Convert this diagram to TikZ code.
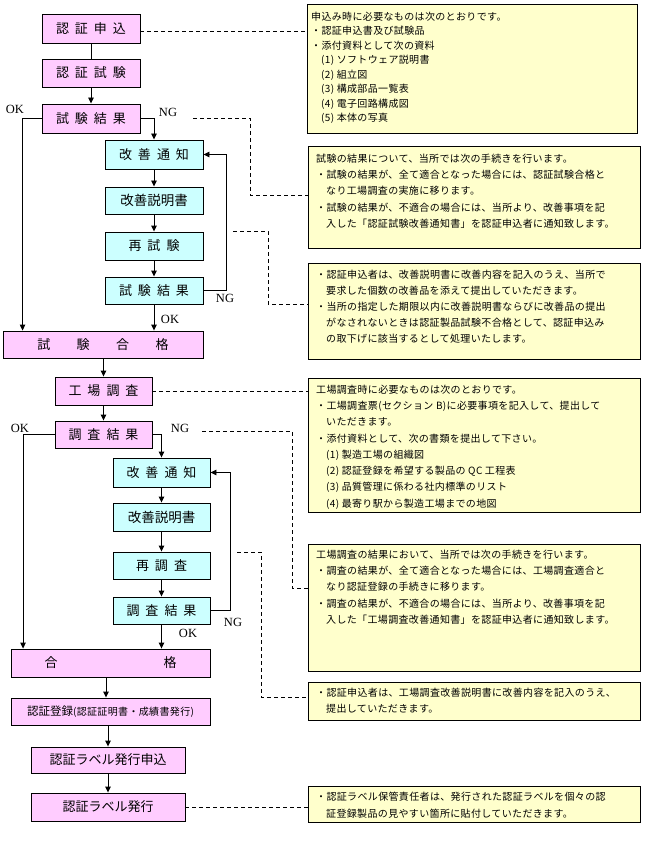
\documentclass[tikz,border=0pt]{standalone}
\usepackage{fontspec}
\newfontfamily\jp[LetterSpace=3.5]{Noto Sans CJK JP}
\newfontfamily\jpl{Noto Sans CJK JP}
\newfontfamily\tms{Liberation Serif}
\usetikzlibrary{arrows.meta}
\definecolor{pinkc}{HTML}{FFCCFF}
\definecolor{cyanc}{HTML}{CCFFFF}
\definecolor{notec}{HTML}{FFFFCC}
\newcommand\gp{\hspace{6pt}}
\newcommand\ind{\hspace*{1em}}
\begin{document}
\begin{tikzpicture}[x=1pt,y=-1pt,
 flowbox/.style={draw, line width=0.9pt, inner sep=0pt, font=\jpl\fontsize{13}{13}\selectfont},
 pbox/.style={flowbox, fill=pinkc},
 cbox/.style={flowbox, fill=cyanc},
 nbox/.style={draw, line width=0.9pt, fill=notec, inner sep=0pt},
 ntext/.style={anchor=north west, inner sep=0pt, align=left},
 lbl/.style={font=\tms\fontsize{12.5}{12.5}\selectfont, inner sep=0pt},
 arr/.style={line width=0.9pt, -{Triangle[length=6pt,width=5.5pt]}},
 ln/.style={line width=0.9pt},
 dsh/.style={line width=0.9pt, dash pattern=on 4pt off 3pt}]
\useasboundingbox (0,0) rectangle (650,850);

% ---- flow boxes ----
\node[pbox, minimum width=98pt, minimum height=29pt] (p1) at (91,28.5) {認\gp 証\gp 申\gp 込};
\node[pbox, minimum width=98pt, minimum height=28pt] (p2) at (91,73) {認\gp 証\gp 試\gp 験};
\node[pbox, minimum width=98pt, minimum height=29pt] (p3) at (91,118.5) {試\gp 験\gp 結\gp 果};
\node[cbox, minimum width=98pt, minimum height=29pt] (c1) at (154,154.5) {改\gp 善\gp 通\gp 知};
\node[cbox, minimum width=98pt, minimum height=27pt, font=\jpl\fontsize{13.5}{13.5}\selectfont] (c2) at (154,200.5) {改善説明書};
\node[cbox, minimum width=98pt, minimum height=28pt] (c3) at (154,246) {再\gp 試\gp 験};
\node[cbox, minimum width=98pt, minimum height=27pt] (c4) at (154,290.5) {試\gp 験\gp 結\gp 果};
\node[pbox, minimum width=200pt, minimum height=27pt] (p4) at (103,344.5) {試\hspace{26.5pt}験\hspace{26.5pt}合\hspace{26.5pt}格};
\node[pbox, minimum width=97pt, minimum height=28pt] (p5) at (103.5,391) {工\gp 場\gp 調\gp 査};
\node[pbox, minimum width=97pt, minimum height=27pt] (p6) at (103.5,434.5) {調\gp 査\gp 結\gp 果};
\node[cbox, minimum width=97pt, minimum height=29pt] (c5) at (161.5,472.5) {改\gp 善\gp 通\gp 知};
\node[cbox, minimum width=97pt, minimum height=28pt, font=\jpl\fontsize{13.5}{13.5}\selectfont] (c6) at (161.5,517) {改善説明書};
\node[cbox, minimum width=97pt, minimum height=27pt] (c7) at (161.5,565.5) {再\gp 調\gp 査};
\node[cbox, minimum width=97pt, minimum height=27pt] (c8) at (161.5,610.5) {調\gp 査\gp 結\gp 果};
\node[pbox, minimum width=199pt, minimum height=28pt] (p7) at (110.5,663) {合\hspace{106pt}格};
\node[pbox, minimum width=199pt, minimum height=27pt] (p8) at (110.5,711.5) {{\fontsize{11.5}{11.5}\selectfont 認証登録}{\jp\fontsize{10}{10}\selectfont (認証証明書・成績書発行)}};
\node[pbox, minimum width=154pt, minimum height=26pt] (p9) at (108,760) {認証ラベル発行申込};
\node[pbox, minimum width=154pt, minimum height=28pt] (p10) at (108,807) {認証ラベル発行};

% ---- note boxes ----
\node[nbox, minimum width=330pt, minimum height=129pt] (n1) at (472,68.5) {};
\node[nbox, minimum width=332pt, minimum height=102pt] (n2) at (474,197) {};
\node[nbox, minimum width=332pt, minimum height=96pt] (n3) at (474,311) {};
\node[nbox, minimum width=332pt, minimum height=134pt] (n4) at (474,445) {};
\node[nbox, minimum width=332pt, minimum height=127pt] (n5) at (474,607.5) {};
\node[nbox, minimum width=332pt, minimum height=38pt] (n6) at (474,701) {};
\node[nbox, minimum width=332pt, minimum height=36pt] (n7) at (474,804) {};

\node[ntext, font=\jp\fontsize{10}{14.5}\selectfont] (t1) at (311,11.5) {申込み時に必要なものは次のとおりです。\\
・認証申込書及び試験品\\
・添付資料として次の資料\\
\ind (1) ソフトウェア説明書\\
\ind (2) 組立図\\
\ind (3) 構成部品一覧表\\
\ind (4) 電子回路構成図\\
\ind (5) 本体の写真};

\node[ntext, font=\jp\fontsize{10}{16.3}\selectfont] (t2) at (316,153.5) {試験の結果について、当所では次の手続きを行います。\\
・試験の結果が、全て適合となった場合には、認証試験合格と\\
\ind なり工場調査の実施に移ります。\\
・試験の結果が、不適合の場合には、当所より、改善事項を記\\
\ind 入した「認証試験改善通知書」を認証申込者に通知致します。};

\node[ntext, font=\jp\fontsize{10}{16}\selectfont] (t3) at (316,269.5) {・認証申込者は、改善説明書に改善内容を記入のうえ、当所で\\
\ind 要求した個数の改善品を添えて提出していただきます。\\
・当所の指定した期限以内に改善説明書ならびに改善品の提出\\
\ind がなされないときは認証製品試験不合格として、認証申込み\\
\ind の取下げに該当するとして処理いたします。};

\node[ntext, font=\jp\fontsize{10}{16.3}\selectfont] (t4) at (316,384.5) {工場調査時に必要なものは次のとおりです。\\
・工場調査票(セクション B)に必要事項を記入して、提出して\\
\ind いただきます。\\
・添付資料として、次の書類を提出して下さい。\\
\ind (1) 製造工場の組織図\\
\ind (2) 認証登録を希望する製品の QC 工程表\\
\ind (3) 品質管理に係わる社内標準のリスト\\
\ind (4) 最寄り駅から製造工場までの地図};

\node[ntext, font=\jp\fontsize{10}{16.3}\selectfont] (t5) at (316,549.5) {工場調査の結果において、当所では次の手続きを行います。\\
・調査の結果が、全て適合となった場合には、工場調査適合と\\
\ind なり認証登録の手続きに移ります。\\
・調査の結果が、不適合の場合には、当所より、改善事項を記\\
\ind 入した「工場調査改善通知書」を認証申込者に通知致します。};

\node[ntext, font=\jp\fontsize{10}{16.5}\selectfont] (t6) at (316,687.5) {・認証申込者は、工場調査改善説明書に改善内容を記入のうえ、\\
\ind 提出していただきます。};

\node[ntext, font=\jp\fontsize{10}{16.5}\selectfont] (t7) at (316,792) {・認証ラベル保管責任者は、発行された認証ラベルを個々の認\\
\ind 証登録製品の見やすい箇所に貼付していただきます。};

% ---- labels ----
\node[lbl] (ok1) at (15,109) {OK};
\node[lbl] (ng1) at (168,112) {NG};
\node[lbl] (ng2) at (225,298) {NG};
\node[lbl] (ok2) at (170,319) {OK};
\node[lbl] (ok3) at (20,428) {OK};
\node[lbl] (ng3) at (180,428) {NG};
\node[lbl] (ng4) at (233,622) {NG};
\node[lbl] (ok4) at (188,633) {OK};

% ---- connectors ----
\draw[ln] (p1.south) -- (p2.north);
\draw[arr] (p2.south) -- (p3.north);
\draw[arr] (p3.west) -| ([xshift=20pt]p4.north west);
\draw[arr] (p3.east) -| (c1.north);
\draw[arr] (c1.south) -- (c2.north);
\draw[arr] (c2.south) -- (c3.north);
\draw[arr] (c3.south) -- (c4.north);
\draw[arr] (c4.south) -- (c4.south |- p4.north);
\draw[arr] (c4.east) -- ++(23,0) |- (c1.east);
\draw[arr] (p5.north |- p4.south) -- (p5.north);
\draw[arr] (p5.south) -- (p6.north);
\draw[arr] (p6.west) -| ([xshift=12.5pt]p7.north west);
\draw[arr] (p6.east) -| (c5.north);
\draw[arr] (c5.south) -- (c6.north);
\draw[arr] (c6.south) -- (c7.north);
\draw[arr] (c7.south) -- (c8.north);
\draw[arr] (c8.south) -- (c8.south |- p7.north);
\draw[arr] (c8.east) -- ++(20,0) |- (c5.east);
\draw[arr] ([xshift=-4.5pt]p7.south) -- ([xshift=-4.5pt]p8.north);
\draw[arr] (p9.north |- p8.south) -- (p9.north);
\draw[arr] (p9.south) -- (p10.north);

% ---- dashed leaders ----
\coordinate (d0) at ([yshift=-2.5pt]p1.east);
\coordinate (d1) at (193,118);
\coordinate (d2) at (233,231);
\coordinate (d3) at (202,431);
\coordinate (d4) at (237,552);
\draw[dsh] (d0) -- (n1.west |- d0);
\draw[dsh] (d1) -- ++(57,0) |- ([yshift=2pt]n2.west);
\draw[dsh] (d2) -- ++(35,0) |- ([yshift=7pt]n3.west);
\draw[dsh] (p5.east) -- (n4.west |- p5.east);
\draw[dsh] (d3) -- ++(90,0) |- ([yshift=19.5pt]n5.west);
\draw[dsh] (d4) -- ++(24,0) |- ([yshift=4pt]n6.west);
\draw[dsh] (p10.east) -- (n7.west |- p10.east);
\end{tikzpicture}
\end{document}
